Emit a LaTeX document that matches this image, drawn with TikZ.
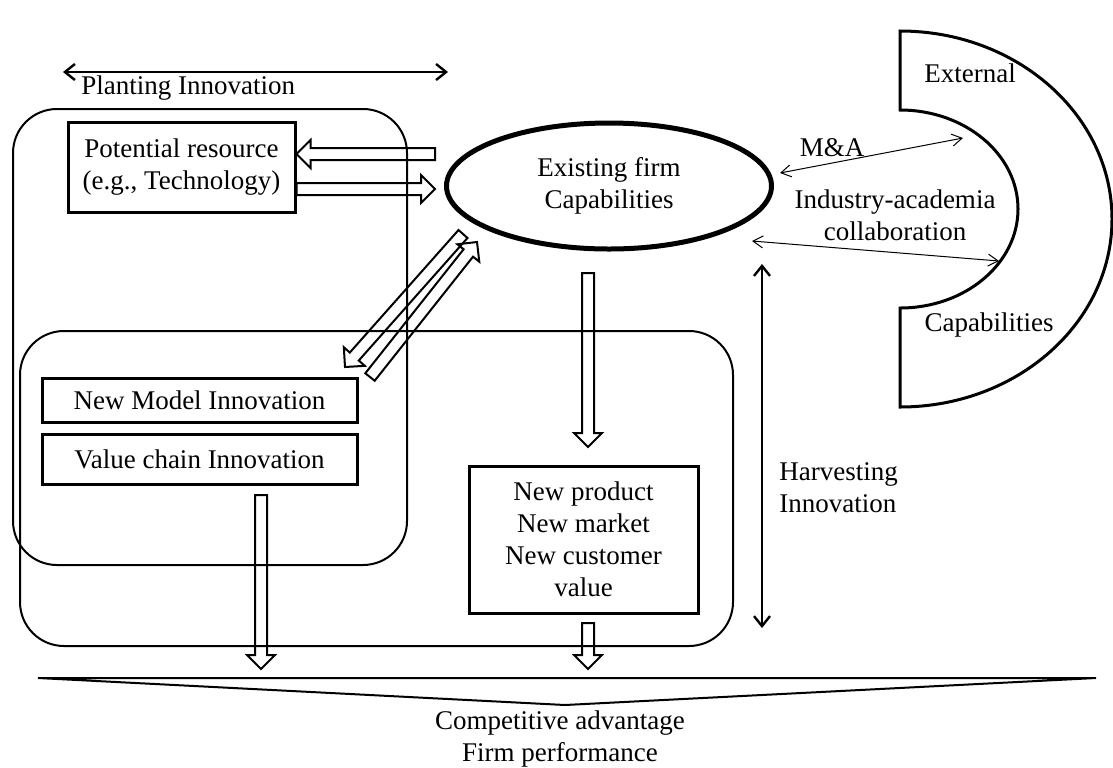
\documentclass[tikz,border=0pt]{standalone}
\usepackage{fontspec}
\setmainfont{Liberation Serif}
\usetikzlibrary{calc,arrows.meta,shapes.geometric}

\tikzset{
  box/.style={draw, line width=1.5pt, align=center, inner sep=0pt},
  area/.style={draw, line width=1pt, rounded corners=22pt},
  hollow/.style={draw, line width=1pt, line join=miter},
  label/.style={align=center, inner sep=0pt},
  span/.style={line width=1.2pt, <->, >={Straight Barb[length=5pt,width=8pt]}},
  link/.style={line width=0.5pt, <->, >={Straight Barb[length=5pt,width=6pt]}},
}

% block arrow with an open outline, from #1 to #2
\newcommand{\hollowarrow}[2]{%
  \draw[hollow] ($(#1)!3pt!90:(#2)$)
    -- ($(#2)!7pt!(#1)!3pt!-90:(#1)$)
    -- ($(#2)!7pt!(#1)!7pt!-90:(#1)$)
    -- (#2)
    -- ($(#2)!7pt!(#1)!7pt!90:(#1)$)
    -- ($(#2)!7pt!(#1)!3pt!90:(#1)$)
    -- ($(#1)!3pt!-90:(#2)$) -- cycle;}

\begin{document}
\begin{tikzpicture}[x=0.5pt, y=-0.5pt, font=\fontsize{13.5}{16}\selectfont]
\useasboundingbox (0,0) rectangle (1113,767);

% the two areas
\draw[area] (13,109) rectangle (407,565);
\draw[area] (20,331) rectangle (733,646);

% top span
\coordinate (pt1) at (63,72);
\coordinate (pt2) at (448,72);
\draw[span] (pt1) -- (pt2);
\node[label, anchor=west] (plant) at (81,88) {Planting Innovation};

% boxes
\node[box, minimum width=113.5pt, minimum height=45pt] (pot) at (181.5,167)
  {Potential resource\\(e.g., Technology)};
\node[box, minimum width=157.5pt, minimum height=22pt] (nmi) at (199.5,400)
  {New Model Innovation};
\node[box, minimum width=157.5pt, minimum height=25pt] (vci) at (199.5,459)
  {Value chain Innovation};
\node[box, minimum width=114.5pt, minimum height=73.5pt] (npr) at (583.5,539.5)
  {New product\\New market\\New customer\\value};
\node[draw, ellipse, line width=2.5pt, align=center, inner sep=0pt,
  minimum width=162.5pt, minimum height=63pt] (efc) at (609,186)
  {Existing firm\\Capabilities};

% external capabilities
\draw[line width=1.5pt] (900,32) -- (900,110)
  arc[start angle=90, end angle=-90, x radius=59pt, y radius=49.5pt]
  -- (900,407)
  arc[start angle=-90, end angle=90, x radius=106pt, y radius=94pt] -- cycle;
\node[label] (ext) at (970,73) {External};
\node[label] (capb) at (989,325) {Capabilities};

% links to the outside
\coordinate (ma1) at (780,173);
\coordinate (ma2) at (963,138);
\coordinate (ia1) at (752,241);
\coordinate (ia2) at (999,261);
\draw[link] (ma1) -- (ma2);
\draw[link] (ia1) -- (ia2);
\node[label] (ma) at (832,148) {M\&A};
\node[label] (iac) at (895,215) {Industry-academia\\collaboration};

% hollow arrows
\coordinate (pl1) at (435,154);
\coordinate (pl2) at (pot.east |- pl1);
\coordinate (pr2) at (435,189);
\coordinate (pr1) at (pot.east |- pr2);
\hollowarrow{pl1}{pl2}
\hollowarrow{pr1}{pr2}
\coordinate (da1) at (463,234);
\coordinate (da2) at (345,367);
\coordinate (db1) at (370,377);
\coordinate (db2) at (477,242);
\hollowarrow{da1}{da2}
\hollowarrow{db1}{db2}
\coordinate (m1) at (588,273);
\coordinate (m2) at (588,447);
\hollowarrow{m1}{m2}
\coordinate (v1) at (261,495);
\coordinate (v2) at (261,669);
\hollowarrow{v1}{v2}
\coordinate (n1) at (588,623);
\coordinate (n2) at (588,669);
\hollowarrow{n1}{n2}

% harvesting span
\coordinate (hv1) at (762,264);
\coordinate (hv2) at (762,628);
\draw[span] (hv1) -- (hv2);
\node[label, anchor=west, align=left] (harv) at (779,488) {Harvesting\\Innovation};

% outcome
\draw[line width=1pt] (38,678) -- (1096,678) -- (565,705) -- cycle;
\node[label] (comp) at (560,739) {Competitive advantage\\Firm performance};
\end{tikzpicture}
\end{document}
